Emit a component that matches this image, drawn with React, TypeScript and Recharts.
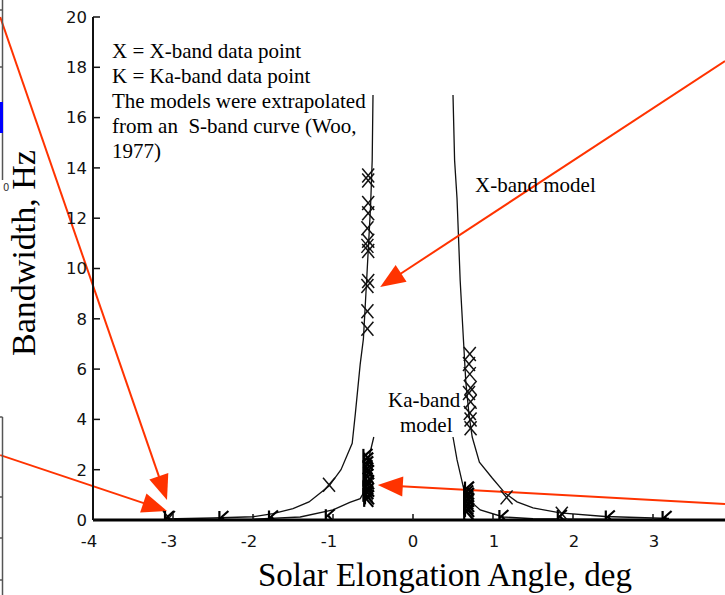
import React from 'react';
import {
  ComposedChart, Line, Scatter, XAxis, YAxis, ReferenceLine,
} from 'recharts';

// ---------- data ----------
const xTicks = [-4, -3, -2, -1, 0, 1, 2, 3, 4];
const yTicks = [0, 2, 4, 6, 8, 10, 12, 14, 16, 18, 20];

// X-band model (extrapolated from S-band curve), left and right branches
const xModelLeft = [
  { x: -3.1, y: 0.04 }, { x: -2.5, y: 0.08 }, { x: -2.0, y: 0.13 }, { x: -1.75, y: 0.25 },
  { x: -1.5, y: 0.45 }, { x: -1.3, y: 0.72 }, { x: -1.05, y: 1.35 }, { x: -0.9, y: 2.0 },
  { x: -0.76, y: 3.05 }, { x: -0.72, y: 4.25 }, { x: -0.66, y: 6.2 }, { x: -0.62, y: 7.2 },
  { x: -0.58, y: 9.5 }, { x: -0.53, y: 12.5 }, { x: -0.51, y: 14.3 }, { x: -0.5, y: 16.9 },
];
const xModelRight = [
  { x: 0.5, y: 16.9 }, { x: 0.52, y: 14.3 }, { x: 0.55, y: 12.8 }, { x: 0.59, y: 9.5 },
  { x: 0.63, y: 7.2 }, { x: 0.66, y: 5.5 }, { x: 0.7, y: 4.2 }, { x: 0.74, y: 3.3 },
  { x: 0.83, y: 2.3 }, { x: 0.99, y: 1.67 }, { x: 1.15, y: 1.07 }, { x: 1.3, y: 0.72 },
  { x: 1.5, y: 0.48 }, { x: 1.84, y: 0.28 }, { x: 2.4, y: 0.14 }, { x: 3.2, y: 0.06 },
];
// Ka-band model
const kaModelLeft = [
  { x: -3.1, y: 0.01 }, { x: -2.0, y: 0.03 }, { x: -1.41, y: 0.12 }, { x: -1.0, y: 0.4 },
  { x: -0.79, y: 0.7 }, { x: -0.66, y: 0.85 }, { x: -0.62, y: 1.07 }, { x: -0.58, y: 2.1 },
  { x: -0.49, y: 3.3 },
];
const kaModelRight = [
  { x: 0.5, y: 3.3 }, { x: 0.55, y: 2.4 }, { x: 0.63, y: 1.3 }, { x: 0.7, y: 0.8 },
  { x: 0.84, y: 0.4 }, { x: 1.13, y: 0.12 }, { x: 1.5, y: 0.05 }, { x: 2.0, y: 0.03 },
  { x: 3.2, y: 0.01 },
];

// X-band data points
const xBandPoints = [
  { x: -0.56, y: 13.7 }, { x: -0.56, y: 13.5 }, { x: -0.56, y: 12.6 }, { x: -0.56, y: 12.2 },
  { x: -0.57, y: 11.6 }, { x: -0.56, y: 11.1 }, { x: -0.57, y: 10.9 }, { x: -0.56, y: 10.7 },
  { x: -0.56, y: 9.5 }, { x: -0.57, y: 9.3 }, { x: -0.57, y: 8.3 }, { x: -0.57, y: 7.6 },
  { x: 0.71, y: 6.6 }, { x: 0.7, y: 6.2 }, { x: 0.71, y: 5.8 }, { x: 0.72, y: 5.25 },
  { x: 0.7, y: 5.05 }, { x: 0.72, y: 4.7 }, { x: 0.71, y: 4.25 }, { x: 0.72, y: 4.0 },
  { x: 0.72, y: 3.65 },
  { x: -1.05, y: 1.4 }, { x: 1.17, y: 0.9 }, { x: -3.05, y: 0.08 }, { x: 1.86, y: 0.25 },
];
// Ka-band data points
const kaBandPoints = [
  { x: -0.56, y: 0.8 }, { x: -0.55, y: 0.9 }, { x: -0.57, y: 1.0 }, { x: -0.56, y: 1.1 },
  { x: -0.55, y: 1.2 }, { x: -0.57, y: 1.3 }, { x: -0.56, y: 1.4 }, { x: -0.55, y: 1.5 },
  { x: -0.57, y: 1.6 }, { x: -0.56, y: 1.75 }, { x: -0.55, y: 1.9 }, { x: -0.56, y: 2.0 },
  { x: -0.57, y: 2.1 }, { x: -0.56, y: 2.25 }, { x: -0.56, y: 2.4 }, { x: -0.57, y: 2.55 },
  { x: 0.69, y: 0.3 }, { x: 0.7, y: 0.4 }, { x: 0.69, y: 0.5 }, { x: 0.7, y: 0.6 },
  { x: 0.69, y: 0.7 }, { x: 0.7, y: 0.8 }, { x: 0.69, y: 0.9 }, { x: 0.7, y: 1.0 },
  { x: 0.69, y: 1.1 }, { x: 0.7, y: 1.25 },
  { x: -3.05, y: 0.08 }, { x: -2.37, y: 0.08 }, { x: -1.75, y: 0.1 }, { x: -1.04, y: 0.15 },
  { x: 1.13, y: 0.12 }, { x: 1.86, y: 0.12 }, { x: 2.46, y: 0.1 }, { x: 3.17, y: 0.08 },
];

// red annotation arrows (start -> tip), in data units
const arrows = [
  { x1: -5.16, y1: 20.0, x2: -3.075, y2: 0.8 },
  { x1: -5.16, y1: 2.58, x2: -3.075, y2: 0.36 },
  { x1: 3.9, y1: 18.25, x2: -0.41, y2: 9.26 },
  { x1: 3.9, y1: 0.64, x2: -0.44, y2: 1.39 },
];

const legendLines = [
  'X = X-band data point',
  'K = Ka-band data point',
  'The models were extrapolated',
  'from an  S-band curve (Woo,',
  '1977)',
];

// ---------- styles ----------
const RED = '#ff3300';
const SERIF = '"Liberation Serif", "Times New Roman", serif';
const SANS = '"DejaVu Sans", sans-serif';

const XMark = (props: any) => {
  const { cx, cy } = props;
  if (cx == null || cy == null) return <g />;
  return (
    <g stroke="#111" strokeWidth={1.5} fill="none">
      <line x1={cx - 6} y1={cy - 7} x2={cx + 6} y2={cy + 7} />
      <line x1={cx + 6} y1={cy - 7} x2={cx - 6} y2={cy + 7} />
    </g>
  );
};

const KMark = (props: any) => {
  const { cx, cy } = props;
  if (cx == null || cy == null) return <g />;
  return (
    <g stroke="#000" strokeWidth={2.2} fill="none">
      <line x1={cx - 4} y1={cy - 7} x2={cx - 4} y2={cy + 7} />
      <line x1={cx - 4} y1={cy + 1} x2={cx + 5} y2={cy - 7} />
      <line x1={cx - 2} y1={cy - 1} x2={cx + 5} y2={cy + 7} />
    </g>
  );
};

const ArrowShape = (props: any) => {
  const { x1, y1, x2, y2 } = props;
  const dx = x2 - x1;
  const dy = y2 - y1;
  const len = Math.hypot(dx, dy) || 1;
  const ux = dx / len;
  const uy = dy / len;
  const headL = 25;
  const headW = 10;
  const bx = x2 - ux * headL;
  const by = y2 - uy * headL;
  const px = -uy;
  const py = ux;
  return (
    <g>
      <line x1={x1} y1={y1} x2={bx + ux * 2} y2={by + uy * 2} stroke={RED} strokeWidth={2} />
      <polygon
        points={`${x2},${y2} ${bx + px * headW},${by + py * headW} ${bx - px * headW},${by - py * headW}`}
        fill={RED}
      />
    </g>
  );
};

const XTick = (props: any) => {
  const { x, y, payload } = props;
  const v = payload.value;
  if (v >= 4) return <g />;
  const shift = v < 0 ? -4 : v > 0 ? 1 : 0;
  return (
    <text x={x + shift} y={y} dy="0.71em" textAnchor="middle" fontFamily={SANS} fontSize={16.5} fill="#111">
      {String(v)}
    </text>
  );
};

const YTick = (props: any) => {
  const { x, y, payload } = props;
  return (
    <text x={x} y={y} dy="0.355em" textAnchor="end" fontFamily={SANS} fontSize={16.5} fill="#111">
      {String(payload.value)}
    </text>
  );
};

export default function App() {
  return (
    <div style={{ position: 'absolute', left: 0, top: 0, width: 725, height: 595, overflow: 'hidden', background: '#fff' }}>
      <ComposedChart
        width={760}
        height={595}
        margin={{ top: 17, right: 27, bottom: 0, left: 0 }}
      >
        <XAxis
          xAxisId="top"
          orientation="top"
          type="number"
          dataKey="x"
          domain={[-4, 4]}
          ticks={xTicks}
          height={0}
          tickSize={-6}
          tickFormatter={() => ''}
          axisLine={{ stroke: '#222', strokeWidth: 1.5 }}
          tickLine={{ stroke: '#222', strokeWidth: 1.5 }}
          allowDataOverflow
        />
        <XAxis
          type="number"
          dataKey="x"
          domain={[-4, 4]}
          ticks={xTicks}
          height={75}
          tickSize={-6}
          tickMargin={21}
          tick={<XTick />}
          interval={0}
          axisLine={{ stroke: '#000', strokeWidth: 3 }}
          tickLine={{ stroke: '#111', strokeWidth: 1.5 }}
          allowDataOverflow
          label={{
            value: 'Solar Elongation Angle, deg',
            position: 'insideBottom',
            offset: 9,
            dx: 32,
            style: { fontFamily: SERIF, fontSize: 33, fill: '#000' },
          }}
        />
        <YAxis
          type="number"
          dataKey="y"
          domain={[0, 20]}
          ticks={yTicks}
          width={93}
          tickSize={-7}
          tickMargin={13}
          tick={<YTick />}
          interval={0}
          axisLine={{ stroke: '#111', strokeWidth: 2 }}
          tickLine={{ stroke: '#111', strokeWidth: 1.5 }}
          allowDataOverflow
          label={(p: any) => {
            const vb = p.viewBox || { x: 0, y: 17, width: 93, height: 503 };
            const cx = vb.x + 35;
            const cy = vb.y + 236;
            return (
              <text
                x={cx}
                y={cy}
                textAnchor="middle"
                transform={`rotate(-90, ${cx}, ${cy})`}
                fontFamily={SERIF}
                fontSize={34}
                fill="#000"
              >
                Bandwidth, Hz
              </text>
            );
          }}
        />

        <Line data={xModelLeft} dataKey="y" type="linear" stroke="#111" strokeWidth={1.3} dot={false} isAnimationActive={false} />
        <Line data={xModelRight} dataKey="y" type="linear" stroke="#111" strokeWidth={1.3} dot={false} isAnimationActive={false} />
        <Line data={kaModelLeft} dataKey="y" type="linear" stroke="#111" strokeWidth={1.3} dot={false} isAnimationActive={false} />
        <Line data={kaModelRight} dataKey="y" type="linear" stroke="#111" strokeWidth={1.3} dot={false} isAnimationActive={false} />

        <Scatter data={xBandPoints} dataKey="y" shape={<XMark />} isAnimationActive={false} />
        <Scatter data={kaBandPoints} dataKey="y" shape={<KMark />} isAnimationActive={false} />

        {arrows.map((a, i) => (
          <ReferenceLine
            key={i}
            segment={[{ x: a.x1, y: a.y1 }, { x: a.x2, y: a.y2 }]}
            ifOverflow="visible"
            shape={ArrowShape}
          />
        ))}
      </ComposedChart>

      <svg
        width={725}
        height={595}
        style={{ position: 'absolute', left: 0, top: 0, pointerEvents: 'none' }}
      >
        {/* fragments of neighbouring figures at the left edge */}
        <g stroke="#555" strokeWidth={1.5}>
          <line x1={2.5} y1={0} x2={2.5} y2={180} />
          <line x1={0} y1={10} x2={2.5} y2={10} />
          <line x1={0} y1={67} x2={2.5} y2={67} />
          <line x1={2.5} y1={417} x2={2.5} y2={595} />
          <line x1={0} y1={417} x2={2.5} y2={417} />
          <line x1={0} y1={497} x2={2.5} y2={497} />
          <line x1={0} y1={538} x2={2.5} y2={538} />
          <line x1={0} y1={580} x2={2.5} y2={580} />
        </g>
        <rect x={0} y={102} width={3} height={31} fill="#0000ff" />
        <text x={3} y={191} fontFamily={SANS} fontSize={10} fill="#333">0</text>

        {/* annotations */}
        <g fontFamily={SERIF} fontSize={21} fill="#000">
          {legendLines.map((t, i) => (
            <text key={i} x={112} y={58 + i * 25} style={{ whiteSpace: 'pre' }}>{t}</text>
          ))}
          <text x={475} y={192}>X-band model</text>
          <text x={388} y={407}>Ka-band</text>
          <text x={400} y={432}>model</text>
        </g>
      </svg>
    </div>
  );
}
